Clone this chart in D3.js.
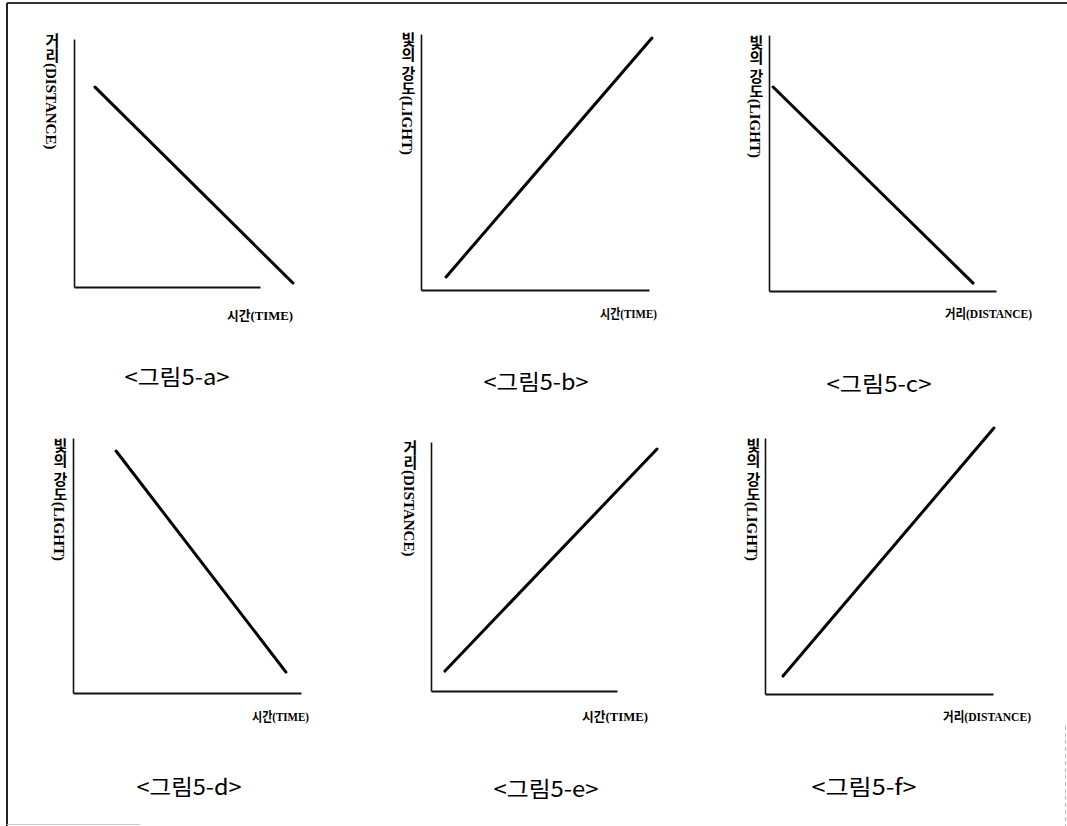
<!DOCTYPE html>
<html>
<head>
<meta charset="utf-8">
<script src="https://cdn.jsdelivr.net/npm/d3@7"></script>
<style>
  body { margin: 0; background: #fff; }
  svg { display: block; }
</style>
</head>
<body>
<script>
var w = 1067;
var h = 826;

// panel names and texts
var panels = ["a", "b", "c", "d", "e", "f"];
var captions = ["<그림5-a>", "<그림5-b>", "<그림5-c>", "<그림5-d>", "<그림5-e>", "<그림5-f>"];
var yLabels = ["거리(DISTANCE)", "빛의 강도(LIGHT)", "빛의 강도(LIGHT)",
               "빛의 강도(LIGHT)", "거리(DISTANCE)", "빛의 강도(LIGHT)"];
var xLabels = ["시간(TIME)", "시간(TIME)", "거리(DISTANCE)",
               "시간(TIME)", "시간(TIME)", "거리(DISTANCE)"];

// line end points, in axis units (0-100 = length of each drawn axis)
var xStart = [11.3, 11.0, 1.8, 18.9, 7.5, 7.9];
var xEnd   = [117.7, 101.3, 89.9, 93.4, 121.5, 100.4];
var yStart = [80.6, 5.1, 79.7, 94.9, 8.0, 7.0];
var yEnd   = [1.6, 98.4, 3.1, 8.2, 97.2, 103.9];

// panel frames on the page (layout only)
var frames = [
    {left: 74,  bottom: 287, aw: 186, ah: 248, xlr: 293,  xlw: 66, xly: 315, ylx: 51,  ylt: 33,  cx: 177, cy: 375},
    {left: 421, bottom: 290, aw: 228, ah: 256, xlr: 657,  xlw: 57, xly: 313, ylx: 407, ylt: 32,  cx: 536, cy: 380},
    {left: 769, bottom: 291, aw: 227, ah: 256, xlr: 1032, xlw: 87, xly: 313, ylx: 755, ylt: 35,  cx: 879, cy: 382},
    {left: 73,  bottom: 693, aw: 228, ah: 255, xlr: 309,  xlw: 57, xly: 716, ylx: 59,  ylt: 438, cx: 189, cy: 785},
    {left: 431, bottom: 691, aw: 186, ah: 249, xlr: 648,  xlw: 66, xly: 716, ylx: 409, ylt: 440, cx: 546, cy: 787},
    {left: 765, bottom: 694, aw: 228, ah: 256, xlr: 1031, xlw: 88, xly: 716, ylx: 752, ylt: 438, cx: 864, cy: 785}
];

var svg = d3.select("body")
            .append("svg")
            .attr("width", w)
            .attr("height", h);

// page frame (scanned border)
svg.append("line").attr("x1", 7).attr("y1", 3).attr("x2", w).attr("y2", 3)
   .attr("stroke", "#333").attr("stroke-width", 2);
svg.append("line").attr("x1", 7).attr("y1", 3).attr("x2", 7).attr("y2", h)
   .attr("stroke", "#222").attr("stroke-width", 2);
svg.append("line").attr("x1", 7).attr("y1", 824.5).attr("x2", 140).attr("y2", 824.5)
   .attr("stroke", "#ccc").attr("stroke-width", 1);
svg.append("line").attr("x1", 1065.5).attr("y1", 726).attr("x2", 1065.5).attr("y2", h)
   .attr("stroke", "#bbb").attr("stroke-width", 1).attr("stroke-dasharray", "4,3");

panels.forEach(function (p, i) {
    var f = frames[i];

    var xScale = d3.scaleLinear()
                   .domain([0, 100])
                   .range([f.left, f.left + f.aw]);
    var yScale = d3.scaleLinear()
                   .domain([0, 100])
                   .range([f.bottom, f.bottom - f.ah]);

    var g = svg.append("g").attr("class", "panel-" + p);

    // bare axes, no ticks
    g.append("g")
     .attr("transform", "translate(0," + f.bottom + ")")
     .call(d3.axisBottom(xScale).tickValues([]).tickSizeOuter(0))
     .select(".domain").attr("stroke", "#111").attr("stroke-width", 2);
    g.append("g")
     .attr("transform", "translate(" + f.left + ",0)")
     .call(d3.axisLeft(yScale).tickValues([]).tickSizeOuter(0))
     .select(".domain").attr("stroke", "#111").attr("stroke-width", 1.6);

    var pts = [[xStart[i], yStart[i]], [xEnd[i], yEnd[i]]];
    var line = d3.line()
                 .x(function (d) { return xScale(d[0]); })
                 .y(function (d) { return yScale(d[1]); });
    g.append("path")
     .datum(pts)
     .attr("d", line)
     .attr("fill", "none")
     .attr("stroke", "#000")
     .attr("stroke-width", 3)
     .attr("stroke-linecap", "round");

    // x axis label, condensed serif
    g.append("text")
     .attr("x", f.xlr - f.xlw)
     .attr("y", f.xly)
     .attr("dominant-baseline", "central")
     .attr("textLength", f.xlw)
     .attr("lengthAdjust", "spacingAndGlyphs")
     .style("font-family", "'Liberation Serif', 'Noto Sans CJK KR', serif")
     .style("font-size", "13px")
     .style("font-weight", "bold")
     .text(xLabels[i]);

    // y axis label, vertical text
    g.append("text")
     .attr("x", f.ylx)
     .attr("y", f.ylt)
     .style("writing-mode", "vertical-rl")
     .style("text-orientation", "mixed")
     .style("font-family", "'Liberation Serif', 'Noto Sans CJK KR', serif")
     .style("font-size", "15px")
     .style("font-weight", "bold")
     .text(yLabels[i]);

    // caption
    g.append("text")
     .attr("x", f.cx)
     .attr("y", f.cy)
     .attr("text-anchor", "middle")
     .attr("dominant-baseline", "central")
     .attr("textLength", 105)
     .attr("lengthAdjust", "spacingAndGlyphs")
     .style("font-family", "'Noto Sans CJK KR', sans-serif")
     .style("font-size", "22px")
     .text(captions[i]);
});
</script>
</body>
</html>
